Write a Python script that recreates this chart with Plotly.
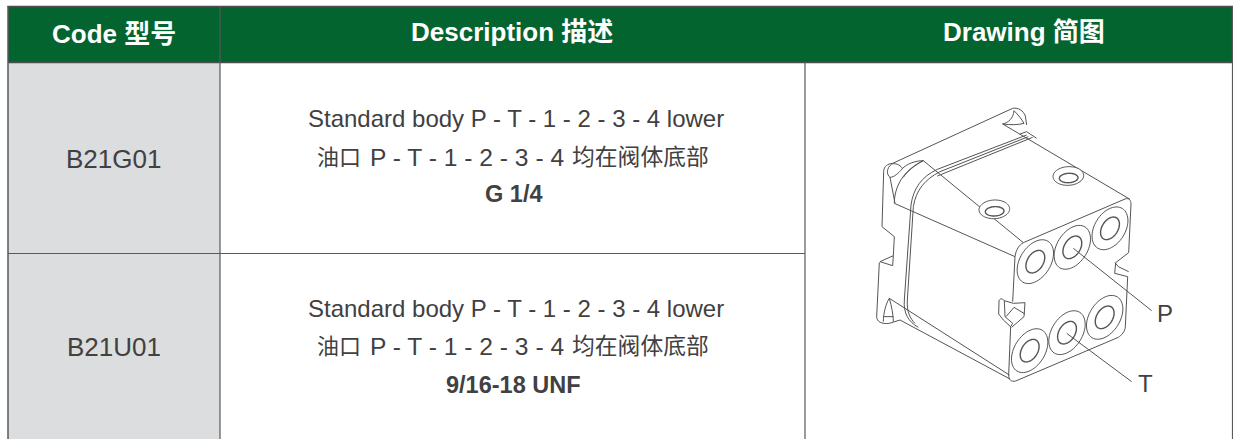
import numpy as np
import plotly.graph_objects as go

W, H = 1233, 439
headers = ["Code 型号", "Description 描述", "Drawing 简图"]
codes = ["B21G01", "B21U01"]
desc_en = ["Standard body P - T - 1 - 2 - 3 - 4 lower"] * 2
cn_head = "油口"
cn_ports = "P - T - 1 - 2 - 3 - 4"
cn_tail = "均在阀体底部"
ports = ["G 1/4", "9/16-18 UNF"]
callouts = ["P", "T"]

LAT = "Liberation Sans, Arial, Noto Sans CJK SC"
INK = "#414042"
RULE = "#58595b"
DRAW = "#545456"

def z(x, y):
    return 850 + x / 3, 90 + y / 3

def P(cmds):
    out = []
    for c in cmds:
        out.append(c[0])
        v = c[1:]
        for i in range(0, len(v), 2):
            px, py = z(v[i], v[i + 1])
            out.append(f"{px:.2f},{py:.2f} ")
    return "".join(out)

# drawing outlines, in crop coordinates
paths = [
    # flange outer
    [("M",96,410),("L",101,245),("C",102,228,112,222,128,220),("L",488,55),("C",505,52,520,62,526,78),("L",530,105)],
    [("M",96,410),("L",133,440),("L",130,497),("L",90,515),("L",128,527),("L",130,497)],
    [("M",88,517),("L",80,680),("C",80,695,95,703,118,700),("L",150,690)],
    # top-left flange corner
    [("M",125,222),("C",140,218,155,228,157,236),("C",145,250,132,262,120,262),("C",110,255,108,235,125,222)],
    [("M",120,262),("L",135,340)],
    [("M",157,236),("C",170,222,195,212,220,212)],
    [("M",133,340),("C",133,290,160,240,220,212)],
    [("M",160,262),("C",170,245,195,225,220,212)],
    # top-right flange corner
    [("M",458,102),("C",475,98,490,85,492,62)],
    [("M",458,102),("C",480,105,505,105,522,100)],
    [("M",492,62),("C",505,75,515,88,522,100)],
    [("M",458,102),("L",840,328)],
    [("M",510,132),("L",530,125),("L",560,145)],
    # left / top face edges
    [("M",220,212),("L",520,458)],
    [("M",133,340),("L",495,500)],
    [("M",118,625),("L",478,855)],
    [("M",118,625),("C",108,640,100,670,100,695)],
    [("M",118,625),("C",125,650,130,675,130,695)],
    [("M",100,680),("L",130,680)],
    [("M",150,690),("L",480,867)],
    # seal band
    [("M",530,135),("L",262,238),("C",215,260,190,295,183,345),("L",163,630),("C",160,670,175,695,205,712)],
    [("M",535,140),("L",270,245),("C",225,268,198,300,190,350),("L",172,630),("C",170,665,180,685,195,700)],
    [("M",548,142),("L",262,258)],
    # front face
    [("M",495,500),("C",498,478,508,465,520,458),("L",825,327),("C",836,323,843,330,843,342),
     ("L",836,488),("L",797,518),("L",794,550),("L",833,560),("L",826,710),("C",825,725,815,735,805,742),
     ("L",497,873),("C",484,876,476,870,476,855),("L",482,710)],
    [("M",495,500),("L",488,635)],
    # front notch
    [("M",482,710),("L",460,690),("L",446,672),("L",447,632),("C",450,625,458,625,463,632),("L",465,680),("L",488,700),("L",482,710)],
    [("M",463,632),("L",490,640),("L",525,638),("L",522,680),("L",485,712)],
    [("M",468,680),("L",492,652),("L",525,672)],
    [("M",795,518),("L",805,530),("L",836,545)],
]
leaders = [
    [("M",670,475),("L",905,662)],
    [("M",650,730),("L",845,875)],
]

def ell(cx, cy, a, b, deg):
    t = np.linspace(0, 2 * np.pi, 61)
    r = np.radians(deg)
    x = cx + a * np.cos(t) * np.cos(r) - b * np.sin(t) * np.sin(r)
    y = cy + a * np.cos(t) * np.sin(r) + b * np.sin(t) * np.cos(r)
    px, py = z(x, y)
    return "M" + "L".join(f"{u:.2f},{v:.2f}" for u, v in zip(px, py)) + "Z"

# (cx, cy, outer a, outer b, inner a, inner b) in crop coordinates
port_rings = [
    (556, 515, 72, 46, 37, 24), (667, 472, 72, 46, 37, 24), (780, 415, 70, 46, 37, 24),
    (539, 782, 72, 46, 37, 24), (651, 728, 72, 46, 37, 24), (764, 682, 72, 46, 37, 24),
]
screws = [(433, 358, 46, 28), (655, 258, 46, 28)]

shapes = []
def rect(x0, y0, x1, y1, fill):
    shapes.append(dict(type="rect", xref="x", yref="y", x0=x0, y0=y0, x1=x1, y1=y1, fillcolor=fill, line_width=0, layer="below"))
def rule(x0, y0, x1, y1, w=1.2, c=RULE):
    shapes.append(dict(type="line", xref="x", yref="y", x0=x0, y0=y0, x1=x1, y1=y1, line=dict(color=c, width=w)))
def stroke(path, w=1, fill=None):
    d = dict(type="path", xref="x", yref="y", path=path, line=dict(color=DRAW, width=w))
    if fill:
        d["fillcolor"] = fill
    shapes.append(d)

rect(8, 6.5, 1233, 62.5, "#04642f")
rect(8, 62.5, 220, 439, "#dcddde")
rule(7.5, 6.5, 1233, 6.5, 1.5, "#4d4d4f")
rule(8, 62.5, 1233, 62.5, 1.5, "#4d4d4f")
rule(8, 253.5, 805, 253.5)
rule(8, 6, 8, 439, 1.5)
rule(220, 6, 220, 439)
rule(805, 62, 805, 439)
rule(1232.5, 6, 1232.5, 439)

for cmds in paths:
    stroke(P(cmds))
for cx, cy, a, b, ia, ib in port_rings:
    stroke(ell(cx, cy, a, b, -58))
    stroke(ell(cx, cy, ia, ib, -58), 1.4)
for cx, cy, a, b in screws:
    stroke(ell(cx, cy, a, b, -3), 1, "#ffffff")
    stroke(ell(cx + 1, cy + 6, a - 18, b - 14, -3), 1.4)
for cmds in leaders:
    stroke(P(cmds))

def txt(x, y, s, size, color=INK, bold=False):
    return dict(x=x, y=y, xref="x", yref="y", text=f"<b>{s}</b>" if bold else s, showarrow=False,
                font=dict(family=LAT, size=size, color=color), xanchor="center", yanchor="middle")

ann = [
    txt(114, 34, headers[0], 26, "#ffffff", bold=True),
    txt(512, 32, headers[1], 26, "#ffffff", bold=True),
    txt(1024, 32, headers[2], 26, "#ffffff", bold=True),
]
for i, ybase in enumerate([0, 190]):
    ann += [
        txt(113.5, 159 + ybase - i * 2, codes[i], 26),
        txt(515.5, 118 + ybase, desc_en[i], 24),
        txt(339, 157 + ybase - i, cn_head, 22),
        txt(467, 157 + ybase - i, cn_ports, 24.6),
        txt(640, 157 + ybase - i, cn_tail, 22.8),
        txt(513, 194 + ybase + i, ports[i], 23.5, bold=True),
    ]
ann += [txt(1165, 313, callouts[0], 24), txt(1145, 383, callouts[1], 24)]

fig = go.Figure()
fig.update_layout(
    width=W, height=H, margin=dict(l=0, r=0, t=0, b=0), paper_bgcolor="white", plot_bgcolor="white",
    xaxis=dict(range=[0, W], visible=False, fixedrange=True),
    yaxis=dict(range=[H, 0], visible=False, fixedrange=True),
    shapes=shapes, annotations=ann, showlegend=False,
)
fig.write_html("out.html", config=dict(displayModeBar=False),
               post_script="document.body.style.margin='0';document.body.style.overflow='hidden';")
